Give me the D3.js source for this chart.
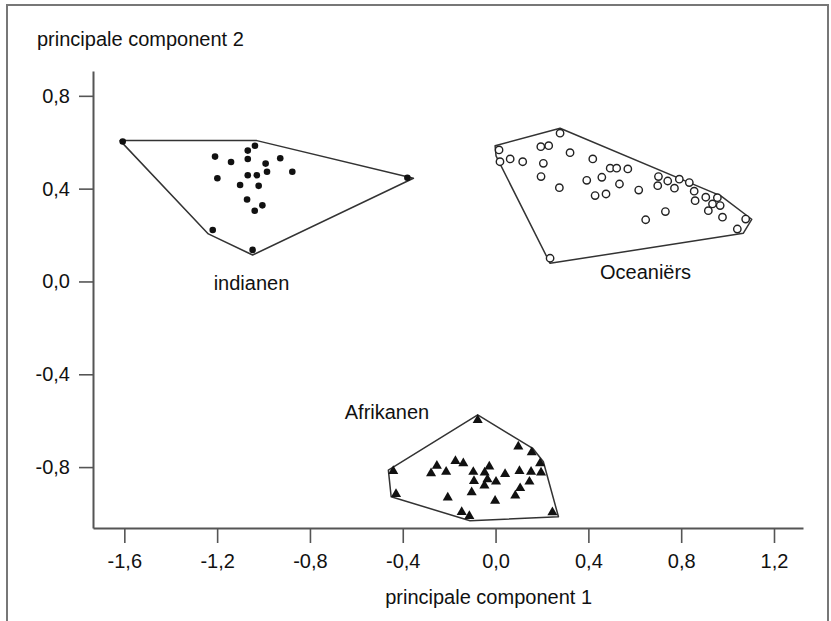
<!DOCTYPE html>
<html>
<head>
<meta charset="utf-8">
<script src="https://cdn.jsdelivr.net/npm/d3@7"></script>
<style>
  html, body { margin: 0; padding: 0; background: #fff; }
  svg text { font-family: "Liberation Sans", Arial, sans-serif; }
</style>
</head>
<body>
<svg id="chart" width="831" height="621"></svg>
<script>
// ---- Data (principal component 1, principal component 2) ----
const xTicks = [-1.6, -1.2, -0.8, -0.4, 0.0, 0.4, 0.8, 1.2];
const yTicks = [-0.8, -0.4, 0.0, 0.4, 0.8];

const indianen = [
  [-1.607, 0.603], [-1.037, 0.585], [-1.068, 0.564], [-1.209, 0.538], [-1.140, 0.515],
  [-1.068, 0.528], [-0.991, 0.508], [-0.928, 0.531], [-1.199, 0.445], [-1.068, 0.458],
  [-1.029, 0.458], [-0.985, 0.473], [-0.876, 0.473], [-1.101, 0.416], [-1.021, 0.412],
  [-0.380, 0.447], [-1.071, 0.353], [-1.005, 0.328], [-1.038, 0.305], [-1.219, 0.222],
  [-1.047, 0.136]
];
const indianenHull = [
  [-1.618, 0.607], [-1.029, 0.607], [-0.354, 0.445], [-1.047, 0.114], [-1.238, 0.205]
];

const oceaniers = [
  [0.278, 0.639], [0.015, 0.567], [0.019, 0.516], [0.063, 0.528], [0.117, 0.516],
  [0.195, 0.581], [0.229, 0.585], [0.206, 0.509], [0.196, 0.452], [0.321, 0.555],
  [0.275, 0.404], [0.419, 0.528], [0.494, 0.488], [0.522, 0.488], [0.570, 0.485],
  [0.458, 0.449], [0.393, 0.436], [0.534, 0.420], [0.429, 0.370], [0.476, 0.377],
  [0.617, 0.394], [0.702, 0.452], [0.699, 0.413], [0.742, 0.433], [0.792, 0.441],
  [0.771, 0.402], [0.835, 0.426], [0.856, 0.389], [0.860, 0.348], [0.906, 0.363],
  [0.956, 0.361], [0.935, 0.334], [0.968, 0.327], [0.917, 0.305], [0.978, 0.277],
  [0.732, 0.301], [0.647, 0.266], [1.078, 0.269], [1.042, 0.226], [0.235, 0.100]
];
const oceaniersHull = [
  [0.278, 0.660], [-0.002, 0.585], [0.002, 0.541], [0.235, 0.078],
  [1.068, 0.208], [1.104, 0.268], [0.971, 0.369]
];

const afrikanen = [
  [-0.077, -0.597], [0.098, -0.712], [0.156, -0.736], [0.192, -0.784], [0.196, -0.824],
  [0.153, -0.820], [0.103, -0.817], [0.041, -0.830], [-0.027, -0.798], [-0.047, -0.824],
  [-0.096, -0.821], [-0.139, -0.784], [-0.173, -0.774], [-0.253, -0.795], [-0.213, -0.820],
  [-0.278, -0.827], [-0.441, -0.817], [-0.035, -0.853], [-0.093, -0.860], [0.002, -0.863],
  [-0.048, -0.880], [0.146, -0.863], [0.106, -0.891], [0.085, -0.923], [-0.103, -0.909],
  [-0.429, -0.916], [-0.206, -0.931], [-0.002, -0.945], [-0.146, -0.994], [-0.113, -1.011],
  [0.245, -0.995]
];
const afrikanenHull = [
  [-0.077, -0.575], [0.160, -0.719], [0.206, -0.777], [0.271, -1.014],
  [-0.110, -1.031], [-0.450, -0.928], [-0.462, -0.813]
];

const groupNames = ["indianen", "Oceaniërs", "Afrikanen"];
const groupLabelAt = [[-1.215, -0.035], [0.45, 0.011], [-0.65, -0.593]];
const xTitle = "principale component 1";
const yTitle = "principale component 2";

// ---- Chart ----
const svg = d3.select("#chart");
const x = d3.scaleLinear().domain([-1.735, 1.325]).range([93, 803]);
const y = d3.scaleLinear().domain([-1.0625, 0.907]).range([528, 71]);

const loc = d3.formatLocale({decimal: ",", thousands: ".", grouping: [3], currency: ["", ""], minus: "-"});
const fmt = loc.format(".1f");
const FONT = "20px";
const INK = "#111";

// frame
svg.append("rect").attr("x", 7).attr("y", 5).attr("width", 821).attr("height", 640)
  .attr("fill", "none").attr("stroke", "#777").attr("stroke-width", 2);

// axes
const gx = svg.append("g").attr("transform", `translate(0,${y.range()[0]})`)
  .call(d3.axisBottom(x).tickValues(xTicks).tickSize(15).tickSizeOuter(0).tickPadding(11).tickFormat(fmt));
const gy = svg.append("g").attr("transform", `translate(${x.range()[0]},0)`)
  .call(d3.axisLeft(y).tickValues(yTicks).tickSize(14).tickSizeOuter(0).tickPadding(9).tickFormat(fmt));
[gx, gy].forEach(g => {
  g.selectAll("path.domain").attr("stroke", "#555").attr("stroke-width", 2);
  g.selectAll(".tick line").attr("stroke", "#555").attr("stroke-width", 1.6);
  g.selectAll(".tick text").attr("fill", INK).style("font-size", FONT)
    .style("font-family", "'Liberation Sans', Arial, sans-serif");
});

// axis titles
svg.append("text").attr("x", x(-0.03)).attr("y", 604).attr("text-anchor", "middle")
  .attr("fill", INK).style("font-size", FONT).text(xTitle);
svg.append("text").attr("x", 37).attr("y", 46).attr("text-anchor", "start")
  .attr("fill", INK).style("font-size", FONT).text(yTitle);

// hulls
const line = d3.line().x(d => x(d[0])).y(d => y(d[1])).curve(d3.curveLinearClosed);
[indianenHull, oceaniersHull, afrikanenHull].forEach(h => {
  svg.append("path").attr("d", line(h)).attr("fill", "none")
    .attr("stroke", "#333").attr("stroke-width", 1.5).attr("stroke-linejoin", "round");
});

// open circle gradient
const defs = svg.append("defs");
const grad = defs.append("radialGradient").attr("id", "og").attr("cx", "40%").attr("cy", "40%").attr("r", "65%");
grad.append("stop").attr("offset", "0%").attr("stop-color", "#fff");
grad.append("stop").attr("offset", "70%").attr("stop-color", "#fff");
grad.append("stop").attr("offset", "100%").attr("stop-color", "#ccc");

// points
svg.append("g").selectAll("circle").data(indianen).join("circle")
  .attr("cx", d => x(d[0])).attr("cy", d => y(d[1])).attr("r", 3.3).attr("fill", "#111");

svg.append("g").selectAll("circle").data(oceaniers).join("circle")
  .attr("cx", d => x(d[0])).attr("cy", d => y(d[1])).attr("r", 3.7)
  .attr("fill", "url(#og)").attr("stroke", "#222").attr("stroke-width", 1.4);

const tri = d3.symbol().type(d3.symbolTriangle).size(44);
svg.append("g").selectAll("path").data(afrikanen).join("path")
  .attr("transform", d => `translate(${x(d[0])},${y(d[1])})`).attr("d", tri).attr("fill", "#111");

// group labels
svg.append("g").selectAll("text").data(groupNames).join("text")
  .attr("x", (d, i) => x(groupLabelAt[i][0])).attr("y", (d, i) => y(groupLabelAt[i][1]))
  .attr("fill", INK).style("font-size", FONT).text(d => d);
</script>
</body>
</html>
